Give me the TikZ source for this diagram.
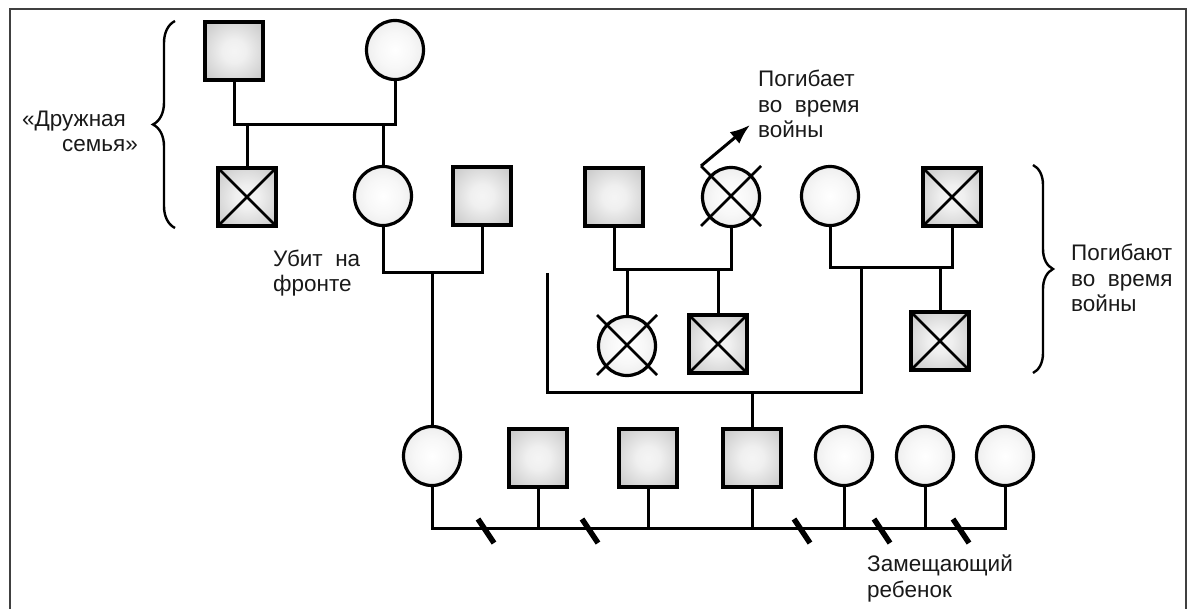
\documentclass[tikz,border=0pt]{standalone}
\usepackage{fontspec}
\setmainfont{Liberation Sans}
\usetikzlibrary{shapes.geometric,arrows.meta,decorations.pathreplacing}
\pgfdeclareradialshading{pedsq}{\pgfpoint{0bp}{0bp}}{color(0bp)=(gray!8); color(10bp)=(gray!12); color(32bp)=(gray!40); color(50bp)=(gray!62); color(75bp)=(gray!68)}
\pgfdeclareradialshading{pedci}{\pgfpoint{0bp}{0bp}}{color(0bp)=(white); color(15bp)=(gray!6); color(38bp)=(gray!22); color(50bp)=(gray!38); color(75bp)=(gray!42)}
\begin{document}
\begin{tikzpicture}[x=1pt,y=-1pt,
  sq/.style={draw, line width=3.5pt, rectangle, minimum width=58pt, minimum height=58pt, inner sep=0pt, shade, shading=pedsq},
  ci/.style={draw, line width=3.2pt, ellipse, minimum width=57pt, minimum height=59pt, inner sep=0pt, shade, shading=pedci},
  xsq/.style={sq, path picture={\draw[line width=2.6pt] (path picture bounding box.north west) -- (path picture bounding box.south east) (path picture bounding box.north east) -- (path picture bounding box.south west);}},
  xl/.style={line width=2.6pt},
  con/.style={line width=3pt},
  slashmark/.style={line width=5.5pt},
  arr/.style={line width=3pt, -{Latex[length=20pt,width=15pt]}},
  bracemark/.style={line width=2.4pt, decorate},
  lab/.style={font=\fontsize{22.5}{25.5}\selectfont, text=black!90, inner sep=0pt, align=left},
  border/.style={line width=2pt, black!75}
]
\useasboundingbox (0,0) rectangle (1188,609);
\draw[border] (10,620) -- (10,9) -- (1186,9) -- (1186,620);

% generation 1
\node[sq] (g1m) at (234,51) {};
\node[ci] (g1f) at (395,50) {};
% generation 2
\node[xsq] (a1) at (247,197) {};
\node[ci] (a2) at (383,196) {};
\node[sq] (a3) at (482,196) {};
\node[sq] (b1) at (614,197) {};
\node[ci] (b2) at (731,197) {};
\node[ci] (b3) at (830,196) {};
\node[xsq] (b4) at (952,197) {};
% generation 3
\node[ci] (c1) at (627,346) {};
\node[xsq] (c2) at (718,344) {};
\node[xsq] (c3) at (940,341) {};
% generation 4
\node[ci] (d1) at (432,456) {};
\node[sq] (d2) at (538,458) {};
\node[sq] (d3) at (648,458) {};
\node[sq] (d4) at (752,458) {};
\node[ci] (d5) at (844,456) {};
\node[ci] (d6) at (925,456) {};
\node[ci] (d7) at (1005,456) {};

% crosses over circles
\foreach \n in {b2,c1}{
  \draw[xl] ([shift={(-30,-31)}]\n.center) -- ([shift={(30,29)}]\n.center)
            ([shift={(30,-31)}]\n.center) -- ([shift={(-30,29)}]\n.center);
}

% connectors
\coordinate (m1) at (0,125);
\draw[con] (g1m.south) |- (g1f.south |- m1) -- (g1f.south);
\draw[con] (a1.north) -- (a1.north |- m1);
\draw[con] (a2.north) -- (a2.north |- m1);

\coordinate (m2) at (0,273);
\draw[con] (a2.south) |- (a3.south |- m2) -- (a3.south);
\draw[con] (d1.north) -- (d1.north |- m2);

\coordinate (m3) at (0,270);
\draw[con] (b1.south) |- (b2.south |- m3) -- (b2.south);
\draw[con] (c1.north) -- (c1.north |- m3);
\draw[con] (c2.north) -- (c2.north |- m3);

\coordinate (m4) at (0,268);
\draw[con] (b3.south) |- (b4.south |- m4) -- (b4.south);
\draw[con] (c3.north) -- (c3.north |- m4);

\coordinate (s1) at (547,273);
\coordinate (s2) at (861,268);
\coordinate (m5) at (0,392);
\draw[con] (s1) |- (s2 |- m5) -- (s2);
\draw[con] (d4.north) -- (d4.north |- m5);

\coordinate (m6) at (0,528);
\draw[con] (d1.south) |- (d7.south |- m6) -- (d7.south);
\foreach \n in {d2,d3,d4,d5,d6}{
  \draw[con] (\n.south) -- (\n.south |- m6);
}
\foreach \x in {486,590,802,882,961}{
  \draw[slashmark] (\x-8,519) -- (\x+8,543);
}

% arrow
\coordinate (tip) at (750,125);
\draw[arr] ([shift={(-30,-31)}]b2.center) -- (tip);

% braces
\draw[bracemark, decoration={brace, amplitude=22pt}] (175,228) -- (175,21);
\draw[bracemark, decoration={brace, amplitude=20pt}] (1033,165) -- (1033,373);

% labels (base anchor = baseline of the last line)
\node[lab, anchor=base west] (t1) at (22,127) {«Дружная};
\node[lab, anchor=base west] (t2) at (62,152) {семья»};
\node[lab, anchor=base west] (t3) at (273,292) {Убит\ \ на\\фронте};
\node[lab, anchor=base west] (t4) at (758,138) {Погибает\\во\ \ время\\войны};
\node[lab, anchor=base west] (t5) at (1071,312) {Погибают\\во\ \ время\\войны};
\node[lab, anchor=base west] (t6) at (867,597) {Замещающий\\ребенок};
\end{tikzpicture}
\end{document}
